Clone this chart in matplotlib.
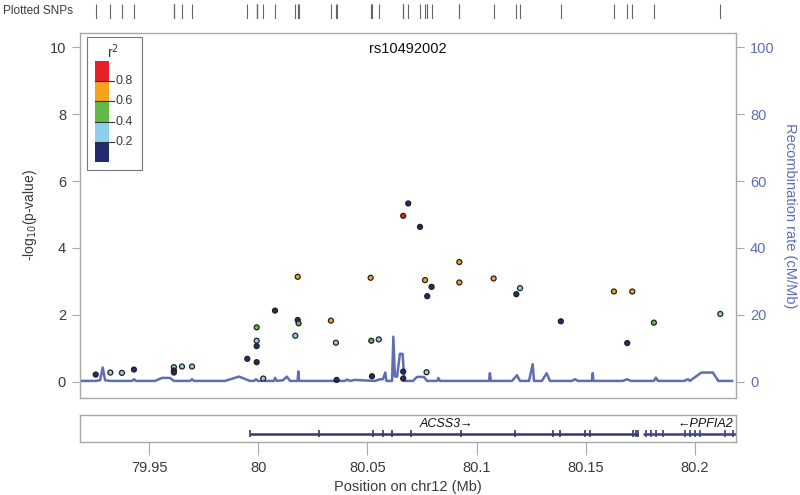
import matplotlib
matplotlib.use("Agg")
import matplotlib.pyplot as plt
from matplotlib.patches import Rectangle

plt.rcParams['font.family'] = ['Liberation Sans', 'DejaVu Sans']

# ---------------- data ----------------
snp_pos = [79.9256, 79.9323, 79.9376, 79.9431, 79.9614, 79.9614, 79.9614, 79.9651, 79.9697,
           79.9950, 79.9993, 79.9993, 79.9993, 79.9993, 80.0023, 80.0077, 80.0170, 80.0181,
           80.0181, 80.0185, 80.0333, 80.0356, 80.0359, 80.0515, 80.0518, 80.0521, 80.0552,
           80.0664, 80.0664, 80.0664, 80.0687, 80.0741, 80.0764, 80.0771, 80.0774, 80.0794,
           80.0921, 80.0921, 80.1078, 80.1182, 80.1199, 80.1386, 80.1629, 80.1690, 80.1713,
           80.1812, 80.2116]
snp_logp = [0.22, 0.28, 0.27, 0.37, 0.44, 0.34, 0.28, 0.46, 0.46,
            0.69, 1.63, 1.23, 1.07, 0.59, 0.10, 2.13, 1.38, 3.14,
            1.85, 1.75, 1.83, 1.17, 0.06, 3.11, 1.23, 0.17, 1.27,
            4.96, 0.31, 0.10, 5.33, 4.63, 3.04, 0.29, 2.56, 2.84,
            3.58, 2.97, 3.09, 2.62, 2.80, 1.81, 2.70, 1.16, 2.70,
            1.77, 2.03]
snp_r2 = [0.1, 0.3, 0.3, 0.1, 0.3, 0.1, 0.1, 0.3, 0.3,
          0.1, 0.5, 0.3, 0.1, 0.1, 0.3, 0.1, 0.3, 0.7,
          0.1, 0.5, 0.7, 0.3, 0.1, 0.7, 0.5, 0.1, 0.3,
          0.9, 0.1, 0.1, 0.1, 0.1, 0.7, 0.3, 0.1, 0.1,
          0.7, 0.7, 0.7, 0.1, 0.3, 0.1, 0.7, 0.1, 0.7,
          0.5, 0.3]

recomb_pos = [79.9184, 79.9253, 79.9276, 79.9288, 79.9299, 79.9321, 79.9422, 79.9431, 79.9440,
              79.9527, 79.9560, 79.9596, 79.9614, 79.9688, 79.9697, 79.9706, 79.9848, 79.9912,
              79.9962, 79.9981, 79.9990, 79.9999, 80.0017, 80.0023, 80.0031, 80.0072, 80.0077,
              80.0086, 80.0114, 80.0131, 80.0146, 80.0180, 80.0184, 80.0187, 80.0375, 80.0397,
              80.0407, 80.0420, 80.0443, 80.0535, 80.0558, 80.0571, 80.0582, 80.0587, 80.0613,
              80.0619, 80.0626, 80.0636, 80.0649, 80.0661, 80.0670, 80.0709, 80.0727, 80.0759,
              80.0773, 80.0819, 80.0825, 80.0832, 80.1057, 80.1061, 80.1066, 80.1162, 80.1185,
              80.1199, 80.1240, 80.1257, 80.1263, 80.1299, 80.1321, 80.1336, 80.1437, 80.1451,
              80.1464, 80.1528, 80.1532, 80.1535, 80.1670, 80.1689, 80.1707, 80.1812, 80.1821,
              80.1831, 80.1950, 80.1969, 80.1977, 80.2029, 80.2082, 80.2107, 80.2170]
recomb_rate = [0.3, 0.3, 0.5, 4.3, 0.5, 0.3, 0.3, 0.8, 0.3,
               0.3, 1.2, 1.2, 0.3, 0.3, 0.8, 0.3, 0.3, 1.6,
               0.3, 0.3, 0.8, 0.3, 0.3, 1.2, 0.3, 0.3, 1.2,
               0.3, 0.5, 1.6, 0.3, 0.3, 3.1, 0.3, 0.3, 0.3,
               0.7, 0.3, 0.6, 0.3, 0.8, 0.8, 2.8, 0.3, 0.3,
               13.5, 1.6, 1.6, 8.4, 8.4, 0.3, 0.3, 1.5, 1.5,
               0.3, 0.3, 1.2, 0.3, 0.3, 2.6, 0.3, 0.3, 2.0,
               0.3, 0.3, 5.3, 0.3, 0.3, 2.6, 0.3, 0.3, 0.8,
               0.3, 0.3, 2.6, 0.3, 0.3, 0.8, 0.3, 0.3, 1.3,
               0.3, 0.3, 0.8, 0.3, 2.8, 2.8, 0.3, 0.3]

r2_breaks = [0.0, 0.2, 0.4, 0.6, 0.8, 1.0]
r2_colors = ['#232a6e', '#8fcdec', '#62b946', '#f5a21e', '#e8202a']
r2_labels = ['0.2', '0.4', '0.6', '0.8']

gene_names = ['ACSS3', 'PPFIA2']
gene_start = [79.9962, 80.1760]
gene_end = [80.1739, 80.2500]
exons_acss3 = [79.9962, 80.0278, 80.0526, 80.0571, 80.0613, 80.0700, 80.0929, 80.1176,
               80.1350, 80.1382, 80.1496, 80.1519, 80.1716, 80.1730, 80.1739]
exons_ppfia2 = [80.1776, 80.1799, 80.1821, 80.1854, 80.1954, 80.1977, 80.2000, 80.2023,
                80.2137, 80.2174]

x_ticks = [79.95, 80.0, 80.05, 80.1, 80.15, 80.2]
x_tick_labels = ['79.95', '80', '80.05', '80.1', '80.15', '80.2']
title = 'rs10492002'

# ---------------- figure ----------------
W, H = 800, 495
fig = plt.figure(figsize=(W / 100, H / 100), dpi=100)
XL = (79.9184, 80.2188)
frame_col = '#a8a8a8'
text_col = '#3a3a3a'
rec_col = '#5f6db6'


def fx(px):
    return px / W


def fy(py):
    return 1 - py / H


ax = fig.add_axes([fx(80), fy(398), fx(736) - fx(80), fy(33) - fy(398)])
ax.set_xlim(*XL)
ax.set_ylim(-0.48, 10.42)
for s in ax.spines.values():
    s.set_color(frame_col)
    s.set_linewidth(1.0)
ax.set_xticks([])
ax.set_yticks([0, 2, 4, 6, 8, 10])
ax.tick_params(axis='y', length=6, color=frame_col, labelsize=10.5, labelcolor=text_col, pad=4)
ax.set_ylabel(r'-log$_{10}$(p-value)', fontsize=10, color=text_col, labelpad=8)

ax2 = ax.twinx()
ax2.set_ylim(-4.8, 104.2)
ax2.set_yticks([0, 20, 40, 60, 80, 100])
ax2.tick_params(axis='y', length=6, color=frame_col, labelsize=10.5, labelcolor=rec_col, pad=4)
for s in ax2.spines.values():
    s.set_visible(False)
ax2.set_ylabel('Recombination rate (cM/Mb)', fontsize=10.5, color=rec_col, rotation=270, labelpad=16)
ax2.plot(recomb_pos, recomb_rate, color=rec_col, lw=1.8, zorder=1, solid_joinstyle='round')

ax.set_zorder(ax2.get_zorder() + 1)
ax.patch.set_visible(False)


def r2_color(v):
    for i in range(5):
        if v < r2_breaks[i + 1]:
            return r2_colors[i]
    return r2_colors[-1]


cols = [r2_color(v) for v in snp_r2]
ax.scatter(snp_pos, snp_logp, s=13, c=cols, edgecolors='#222222', linewidths=0.9, zorder=3)

ax.text(0.5, 0.955, title, transform=ax.transAxes, ha='center', va='center',
        fontsize=10.5, color='#111111')

# legend
ax.add_patch(Rectangle((0.0107, 0.625), 0.0838, 0.364, transform=ax.transAxes,
                       facecolor='white', edgecolor='#777777', lw=0.8, zorder=4))
x0, x1 = 0.0229, 0.0442
ybot, ytop = 0.647, 0.923
seg = (ytop - ybot) / 5
for i, c in enumerate(r2_colors):
    ax.add_patch(Rectangle((x0, ybot + i * seg), x1 - x0, seg, transform=ax.transAxes,
                           facecolor=c, edgecolor='none', zorder=5))
for i, lab in enumerate(r2_labels):
    yy = ybot + (i + 1) * seg
    ax.plot([x0, x1 + 0.007], [yy, yy], transform=ax.transAxes, color='#333333', lw=0.8, zorder=6)
    ax.text(x1 + 0.010, yy, lab, transform=ax.transAxes, ha='left', va='center',
            fontsize=9, color=text_col, zorder=6)
ax.text(0.05, 0.95, r'r$^2$', transform=ax.transAxes, ha='center', va='center',
        fontsize=10, color=text_col, zorder=6)

# top rug
axr = fig.add_axes([fx(80), fy(19), fx(736) - fx(80), fy(4) - fy(19)])
axr.set_xlim(*XL)
axr.set_ylim(0, 1)
axr.vlines(snp_pos, 0, 1, color='#666666', lw=0.8)
axr.axis('off')
fig.text(fx(3), fy(11), 'Plotted SNPs', ha='left', va='center', fontsize=8.5, color=text_col)

# gene panel
axg = fig.add_axes([fx(80), fy(442), fx(736) - fx(80), fy(415) - fy(442)])
axg.set_xlim(*XL)
axg.set_ylim(0, 1)
for s in axg.spines.values():
    s.set_color(frame_col)
    s.set_linewidth(1.0)
axg.set_yticks([])
axg.set_xticks(x_ticks)
axg.set_xticklabels(x_tick_labels)
axg.tick_params(axis='x', length=9, color=frame_col, labelsize=10.5, labelcolor=text_col, pad=5)
axg.set_xlabel('Position on chr12 (Mb)', fontsize=10.5, color=text_col, labelpad=3)

gy = 0.30
gene_col = '#35386e'
axg.plot([gene_start[0], gene_end[0]], [gy, gy], color=gene_col, lw=1.8, solid_capstyle='butt')
axg.plot([gene_start[1], gene_end[1]], [gy, gy], color='#3c3f8a', lw=1.8, solid_capstyle='butt', clip_on=True)
axg.vlines(exons_acss3, gy - 0.13, gy + 0.13, color=gene_col, lw=1.2)
axg.vlines(exons_ppfia2, gy - 0.13, gy + 0.13, color='#3c3f8a', lw=1.2)
axg.text(80.0741, 0.66, gene_names[0] + '\u2192', ha='left', va='center', fontsize=9,
         style='italic', color='#111111')
axg.text(80.2175, 0.66, '\u2190' + gene_names[1], ha='right', va='center', fontsize=9,
         style='italic', color='#111111')

fig.savefig('out.png', dpi=100)
